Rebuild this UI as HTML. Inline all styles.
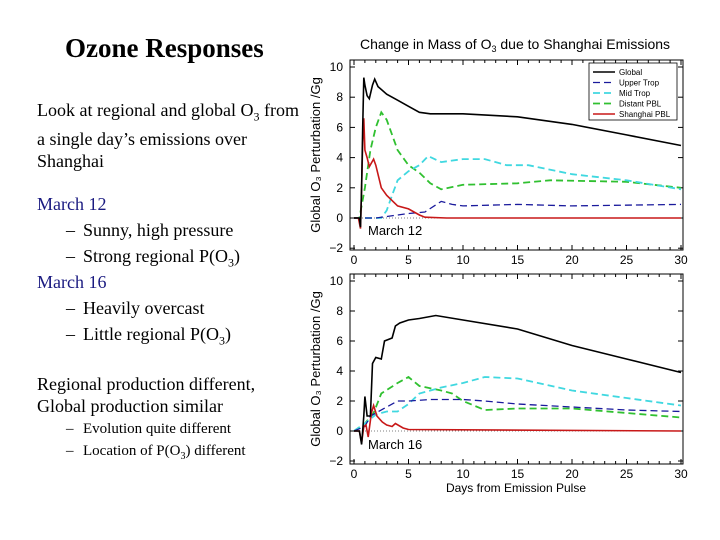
<!DOCTYPE html>
<html><head><meta charset="utf-8"><style>
body{margin:0;background:#fff;width:720px;height:540px;overflow:hidden;position:relative;font-family:"Liberation Serif",serif}
.t{position:absolute;white-space:nowrap;font-size:18px;color:#000}
.b{color:#1a1a80}
.d{display:inline-block;width:17px}
svg{position:absolute;left:0;top:0}
</style></head><body>
<div class="t" style="left:65px;top:33px;font-size:27px;font-weight:bold">Ozone Responses</div>
<div class="t" style="left:37px;top:99px;line-height:22px">Look at regional and global O<sub style="font-size:12px">3</sub> from<br>a single day’s emissions over<br>Shanghai</div>
<div class="t b" style="left:37px;top:194px">March 12</div>
<div class="t" style="left:66px;top:220px"><span class="d">–</span>Sunny, high pressure</div>
<div class="t" style="left:66px;top:246px"><span class="d">–</span>Strong regional P(O<sub style="font-size:12px">3</sub>)</div>
<div class="t b" style="left:37px;top:272px">March 16</div>
<div class="t" style="left:66px;top:298px"><span class="d">–</span>Heavily overcast</div>
<div class="t" style="left:66px;top:324px"><span class="d">–</span>Little regional P(O<sub style="font-size:12px">3</sub>)</div>
<div class="t" style="left:37px;top:373px;line-height:22px">Regional production different,<br>Global production similar</div>
<div class="t" style="left:66px;top:421px;font-size:15px"><span class="d">–</span>Evolution quite different</div>
<div class="t" style="left:66px;top:443px;font-size:15px"><span class="d">–</span>Location of P(O<sub style="font-size:10px">3</sub>) different</div>
<svg id="chart" width="720" height="540" font-family="Liberation Sans, sans-serif"></svg>
<script>
const topGlobalX=[0,0.5,0.6,0.7,0.8,0.9,1.0,1.2,1.4,1.7,1.9,2.2,3,4,5,6,7,10,15,20,25,30];
const topGlobalY=[0,0,-0.6,2,6,9.3,8.8,8.1,7.9,8.8,9.2,8.7,8.2,7.8,7.4,7.0,6.9,6.9,6.7,6.2,5.5,4.8];
const topUpperX=[0,2,3,5,6.5,8,9,10,15,20,30];
const topUpperY=[0,0,0.1,0.3,0.4,1.1,0.9,0.8,0.9,0.8,0.9];
const topMidX=[0,2.5,3,3.5,4,5,6,6.8,8,10,12,14,16,20,25,30];
const topMidY=[0,0,0.5,1.5,2.5,3.1,3.5,4.1,3.7,3.9,3.9,3.5,3.5,2.9,2.5,1.9];
const topDistX=[0,0.5,1,1.5,2,2.5,3,4,5,6,7,8,10,15,18,25,30];
const topDistY=[0,0,2,4.5,6,7,6.5,4.5,3.5,3.0,2.3,1.9,2.2,2.3,2.5,2.4,2.0];
const topShX=[0,0.4,0.6,0.7,0.8,0.9,1.0,1.2,1.4,1.8,2,2.5,3,4,5,6,6.5,8.5,30];
const topShY=[0,0,-0.7,2,5,6.6,4.5,4.0,3.4,3.9,3.5,2,1.5,0.8,0.6,0.2,0.05,0,0];
const botGlobalX=[0,0.5,0.7,0.9,1.0,1.2,1.5,1.7,2,2.5,2.8,3.5,3.8,4.2,5,6,7.5,10,15,20,25,30];
const botGlobalY=[0,0,-0.9,1,2.3,1,1,4.5,4.9,4.8,6,6.2,7.0,7.2,7.4,7.5,7.7,7.4,6.8,5.7,4.8,3.9];
const botUpperX=[0,1,1.5,2,3,4,5,7,10,12,15,20,25,30];
const botUpperY=[0,0.3,1.0,1.2,1.6,2.0,2.0,2.1,2.1,2.0,1.8,1.6,1.4,1.3];
const botMidX=[0,1,1.5,2,3,4,5,6,8,10,12,15,20,25,30];
const botMidY=[0,0.5,0.8,1.1,1.3,1.3,1.8,2.5,2.9,3.2,3.6,3.5,2.7,2.2,1.7];
const botDistX=[0,1,1.8,2.5,4,5,6,8,9,10,12,15,20,25,30];
const botDistY=[0,0.5,1.2,2.5,3.2,3.6,3.0,2.7,2.5,2.0,1.4,1.5,1.5,1.2,0.9];
const botShX=[0,0.5,0.7,0.9,1.1,1.3,1.6,1.8,2.1,2.6,3,3.5,3.8,4.5,5,30];
const botShY=[0,0,-0.8,0.3,0.4,-0.4,1.2,1.7,1.0,0.6,0.4,0.3,0.5,0.2,0.1,0];
const xTicks=[0,5,10,15,20,25,30];
const yTicksTop=[10,8,6,4,2,0,-2];
const yTicksBot=[10,8,6,4,2,0,-2];
const legendLabels=["Global","Upper Trop","Mid Trop","Distant PBL","Shanghai PBL"];

const NS="http://www.w3.org/2000/svg";
const svg=document.getElementById('chart');
function mk(tag,attrs,parent){const e=document.createElementNS(NS,tag);for(const k in attrs)e.setAttribute(k,attrs[k]);(parent||svg).appendChild(e);return e;}
const styles=[
 {stroke:"#000",w:1.6,dash:""},
 {stroke:"#1a1a9c",w:1.3,dash:"7,4"},
 {stroke:"#40d8e0",w:1.8,dash:"7,4"},
 {stroke:"#30c030",w:1.8,dash:"7,4"},
 {stroke:"#c81818",w:1.6,dash:""}];
function panel(name,top,y10,y0,xs,ys,yt,label,labelY){
  const x0=354,x30=681,L=350,R=683,B=top+190;
  const sx=d=>x0+(x30-x0)*d/30;
  const sy=v=>y0+(y10-y0)*v/10;
  const g=mk('g',{});
  
  
  const fr=mk('rect',{x:L,y:top,width:R-L,height:B-top,fill:'none',stroke:'#000','stroke-width':1},g);
  
  
  xTicks.forEach(t=>{
    for(let m=0;m<5;m++){const d=t+m;if(d>30)break;const len=m?3:5;
      mk('line',{x1:sx(d),x2:sx(d),y1:B,y2:B-len,stroke:'#000'},g);mk('line',{x1:sx(d),x2:sx(d),y1:top,y2:top+len,stroke:'#000'},g);}
    const tx=mk('text',{x:sx(t),y:B+14,'font-size':12,'text-anchor':'middle'},g);tx.textContent=t;
    
    
  });
  yt.forEach(t=>{
    mk('line',{x1:L,x2:L+5,y1:sy(t),y2:sy(t),stroke:'#000'},g);mk('line',{x1:R,x2:R-5,y1:sy(t),y2:sy(t),stroke:'#000'},g);
    const tx=mk('text',{x:343,y:sy(t)+4,'font-size':12,'text-anchor':'end'},g);tx.textContent=t<0?'−'+(-t):t;
    
    
  });
  const yl=mk('text',{x:0,y:0,'font-size':13,'text-anchor':'middle',transform:`translate(320,${(top+B)/2}) rotate(-90)`},g);
  yl.textContent='Global O₃ Perturbation /Gg';
  
  
  mk('line',{x1:L,x2:R,y1:sy(0),y2:sy(0),stroke:'#000','stroke-width':0.6,'stroke-dasharray':'1,2'},g);
  const names=['global','upper-trop','mid-trop','distant-pbl','shanghai-pbl'];
  [3,2,1,4,0].forEach(i=>{
    const st=styles[i];
    const p=mk('path',{d:xs[i].map((d,j)=>(j?'L':'M')+sx(d).toFixed(1)+','+sy(ys[i][j]).toFixed(1)).join(''),fill:'none',stroke:st.stroke,'stroke-width':st.w,'stroke-dasharray':st.dash},g);
    
    
  });
  const lb=mk('text',{x:368,y:labelY,'font-size':13},g);lb.textContent=label;
  
  
}
panel('top-panel',60,67,218,[topGlobalX,topUpperX,topMidX,topDistX,topShX],[topGlobalY,topUpperY,topMidY,topDistY,topShY],yTicksTop,'March 12',235);
panel('bottom-panel',274,281,431,[botGlobalX,botUpperX,botMidX,botDistX,botShX],[botGlobalY,botUpperY,botMidY,botDistY,botShY],yTicksBot,'March 16',449);
const title=mk('text',{x:515,y:49,'font-size':14,'text-anchor':'middle'});
title.innerHTML='Change in Mass of O<tspan font-size="9" dy="3">3</tspan><tspan dy="-3"> due to Shanghai Emissions</tspan>';


const xt=mk('text',{x:516,y:492,'font-size':12,'text-anchor':'middle'});xt.textContent='Days from Emission Pulse';


const lg=mk('g',{});


mk('rect',{x:589,y:63,width:88,height:57,fill:'#fff',stroke:'#000','stroke-width':0.8},lg);
legendLabels.forEach((l,i)=>{
  const y=72+i*10.5,st=styles[i];
  const e=mk('g',{},lg);
  
  
  mk('line',{x1:593,x2:615,y1:y,y2:y,stroke:st.stroke,'stroke-width':st.w,'stroke-dasharray':st.dash},e);
  const t=mk('text',{x:619,y:y+3,'font-size':8},e);t.textContent=l;
});
</script>
</body></html>
